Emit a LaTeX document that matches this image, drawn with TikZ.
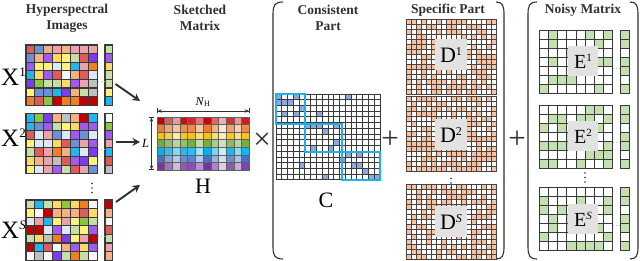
\documentclass[tikz,border=0pt]{standalone}
\usepackage{fontspec}
\setmainfont{Liberation Serif}
\usetikzlibrary{arrows.meta}
\definecolor{pal1}{HTML}{C00000}
\definecolor{pal2}{HTML}{6E8FD6}
\definecolor{pal3}{HTML}{A05AF0}
\definecolor{pal4}{HTML}{DDE8F6}
\definecolor{pal5}{HTML}{E05A5A}
\definecolor{pal6}{HTML}{22B5EE}
\definecolor{pal7}{HTML}{C5DFA6}
\definecolor{pal8}{HTML}{F4B183}
\definecolor{pal9}{HTML}{F7F7F7}
\definecolor{pal10}{HTML}{8CC63F}
\definecolor{pal11}{HTML}{EBA2AA}
\definecolor{pal12}{HTML}{FFF27A}
\definecolor{pal13}{HTML}{F07F22}
\definecolor{pal14}{HTML}{7B3CEB}
\definecolor{pal15}{HTML}{FFD966}
\definecolor{pal16}{HTML}{BFBFBF}
\definecolor{hr0}{HTML}{C00000}
\definecolor{hr1}{HTML}{ED7D31}
\definecolor{hr2}{HTML}{FFC000}
\definecolor{hr3}{HTML}{70AD47}
\definecolor{hr4}{HTML}{00B0F0}
\definecolor{hr5}{HTML}{4472C4}
\definecolor{hr6}{HTML}{7030A0}
\definecolor{dcol0}{HTML}{FFFFFF}
\definecolor{dcol1}{HTML}{F6C3A2}
\definecolor{ecol0}{HTML}{FFFFFF}
\definecolor{ecol1}{HTML}{C5E0B0}
\definecolor{cblue}{HTML}{8EA9DB}
\definecolor{frameblue}{HTML}{1CB0EC}
\definecolor{gridc}{HTML}{3A3A3A}
\definecolor{gridd}{HTML}{4A4240}
\definecolor{boxgray}{HTML}{E2E2E2}
\definecolor{ink}{HTML}{303030}

\newcommand{\supr}[3]{\raisebox{#2pt}{\fontsize{#1}{#1}\selectfont #3}}
\newcommand{\xmat}[2]{%
  \foreach \i in {0,...,7}{\foreach \j in {0,...,6}{%
    \pgfmathrandominteger{\cidx}{1}{16}%
    \filldraw[cellx, fill=pal\cidx] ({#1+\i*8.9},{#2+\j*8.6}) rectangle ++(8.9,8.6);
  }}%
  \foreach \j in {0,...,6}{%
    \pgfmathrandominteger{\cidx}{1}{16}%
    \filldraw[cellx, fill=pal\cidx] ({#1+79},{#2+\j*8.6}) rectangle ++(7.4,8.6);
  }%
  \draw[smalldots] ({#1+72.2},{#2+36}) -- ({#1+78.4},{#2+36});
}
\newcommand{\dmat}[2]{%
  \foreach \i in {0,...,17}{\foreach \j in {0,...,14}{%
    \pgfmathtruncatemacro\bb{rnd<0.5}%
    \filldraw[celld, fill=dcol\bb] ({#1+\i*5.05},{#2+\j*5.0}) rectangle ++(5.05,5.0);
  }}%
}
\newcommand{\emat}[2]{%
  \foreach \i in {0,...,7}{\foreach \j in {0,...,6}{%
    \pgfmathtruncatemacro\bb{rnd<0.32}%
    \filldraw[celle, fill=ecol\bb] ({#1+\i*9.2},{#2+\j*9.0}) rectangle ++(9.2,9.0);
  }}%
  \foreach \j/\g in {0/1,1/1,2/0,3/1,4/1,5/0,6/1}{%
    \filldraw[celle, fill=ecol\g] ({#1+80.7},{#2+\j*9.0}) rectangle ++(9.3,9.0);
  }%
  \draw[smalldots] ({#1+74},{#2+37}) -- ({#1+80},{#2+37});
}
\newcommand{\vdot}[2]{%
  \fill[ink] (#1,{#2-4.5}) circle (0.95pt);
  \fill[ink] (#1,#2) circle (0.95pt);
  \fill[ink] (#1,{#2+4.5}) circle (0.95pt);
}

\begin{document}
\begin{tikzpicture}[x=1pt,y=-1pt,
  cellx/.style={draw=gridc, line width=1.1pt},
  celld/.style={draw=gridd, line width=1.0pt},
  celle/.style={draw=gridc, line width=1.0pt},
  cellc/.style={draw=gridc, line width=0.9pt},
  cellh/.style={draw=gridc!80, line width=0.8pt},
  smalldots/.style={draw=gray!60, dotted, line width=0.7pt},
  title/.style={font=\fontsize{13.5}{16}\selectfont\bfseries, align=center, text=ink, inner sep=0pt},
  biglbl/.style={font=\fontsize{25}{25}\selectfont, text=black, inner sep=0pt},
  matlbl/.style={font=\fontsize{22}{22}\selectfont, text=black, inner sep=0pt},
  boxlbl/.style={fill=boxgray, minimum width=32pt, minimum height=31pt, inner sep=0pt,
                 font=\fontsize{22}{22}\selectfont},
  arr/.style={draw=ink, line width=1.9pt, -{Stealth[length=7.5pt,width=8pt]}},
  dim/.style={draw=ink, line width=0.7pt,
              {Bar[width=5pt]Stealth[length=4pt,width=3.5pt]}-{Stealth[length=4pt,width=3.5pt]Bar[width=5pt]}},
  brk/.style={draw=ink, line width=1.1pt},
  op/.style={font=\fontsize{31}{31}\selectfont, text=ink, inner sep=0pt}]
\useasboundingbox (0,0) rectangle (640,261);
\pgfmathsetseed{20}

% ---------- titles
\node[title] (t1) at (67,18) {Hyperspectral\\Images};
\node[title] (t2) at (200,18) {Sketched\\Matrix};
\node[title] (t3) at (328,18) {Consistent\\Part};
\node[title] (t4) at (448,10) {Specific Part};
\node[title] (t5) at (583,10) {Noisy Matrix};

% ---------- hyperspectral images
\xmat{26}{45}
\xmat{26}{113.5}
\xmat{26}{200}
\node[draw=none, minimum width=86pt, minimum height=60pt, inner sep=0pt] (x1) at (69,75) {};
\node[draw=none, minimum width=86pt, minimum height=60pt, inner sep=0pt] (x2) at (69,143.5) {};
\node[draw=none, minimum width=86pt, minimum height=60pt, inner sep=0pt] (xs) at (69,230) {};
\node[biglbl, anchor=base west] (lx1) at (1,86) {X\supr{13}{9}{1}};
\node[biglbl, anchor=base west] (lx2) at (1,147) {X\supr{13}{9}{2}};
\node[biglbl, anchor=base west] (lxs) at (1,239) {X\supr{13}{9}{\textit{S}}};
\vdot{92}{188}

% ---------- sketched matrix H
\foreach \j in {0,...,6}{%
  \foreach \i/\p in {0/100,1/72,2/42,3/85,4/92,5/45,6/100,7/62,8/28,9/82,10/45,11/96}{%
    \pgfmathtruncatemacro\pp{max(15,min(100,\p+rnd*20-10))}%
    \filldraw[cellh, fill=hr\j!\pp!white] ({157+\i*7.7},{117+\j*7.6}) rectangle ++(7.7,7.6);
  }}
\node[draw=none, minimum width=92.4pt, minimum height=53.2pt, inner sep=0pt] (hm) at (203.2,143.6) {};
\coordinate (nl) at (157,111);
\coordinate (nr) at (249.4,111);
\draw[dim] (nl) -- (nr);
\node[font=\fontsize{12}{12}\selectfont, inner sep=0pt] (nh) at (203,102) {\textit{N}\textsubscript{H}};
\coordinate (lt) at (151.5,117);
\coordinate (lb) at (151.5,170.2);
\draw[dim] (lt) -- (lb);
\node[font=\fontsize{12.5}{12.5}\selectfont\itshape, inner sep=0pt] (ll) at (145.5,143.5) {L};
\node[matlbl] (hl) at (203,186) {H};

% ---------- arrows
\coordinate (a1s) at (115.5,84);
\coordinate (a1e) at (140,101);
\coordinate (a2s) at (116,142);
\coordinate (a2e) at (140,142);
\coordinate (a3s) at (116,202);
\coordinate (a3e) at (140,185);
\draw[arr] (a1s) -- (a1e);
\draw[arr] (a2s) -- (a2e);
\draw[arr] (a3s) -- (a3e);

\node[op] (times) at (262,141) {×};

% ---------- bracket 1
\draw[brk] (283,2) .. controls (275,2) and (273,5) .. (273,14) -- (273,247) .. controls (273,256) and (275,259) .. (283,259);
\draw[brk] (496,2) .. controls (502,2) and (504,5) .. (504,14) -- (504,247) .. controls (504,256) and (502,259) .. (496,259);

% ---------- consistent part C
\foreach \i in {0,...,17}{\foreach \j in {0,...,14}{%
  \filldraw[cellc, fill=white] ({276+\i*5.78},{94+\j*5.73}) rectangle ++(5.78,5.73);
}}
\foreach \i/\j in {0/0,3/0,12/0,0/1,1/1,2/1,1/3,3/3,7/3,4/2,5/5,6/5,7/5,10/5,8/6,6/9,9/9,10/8,12/10,14/10,11/11,4/12,13/12,14/12,15/13,8/14,16/14,17/14}{%
  \filldraw[cellc, fill=cblue] ({276+\i*5.78},{94+\j*5.73}) rectangle ++(5.78,5.73);
}
\draw[frameblue, line width=1.9pt] (276,94) rectangle (305,124);
\draw[frameblue, line width=1.9pt] (305,124) rectangle (341.7,152);
\draw[frameblue, line width=1.9pt] (341.7,152) rectangle (380,180);
\node[draw=none, minimum width=104pt, minimum height=86pt, inner sep=0pt] (cm) at (328,137) {};
\node[matlbl] (cl) at (326,200) {C};

\node[op] (plus1) at (390,140) {+};

% ---------- specific part D
\dmat{406}{20}
\dmat{406}{97}
\dmat{406}{185}
\node[boxlbl] (d1) at (451,55) {D\supr{12}{7.5}{1}};
\node[boxlbl] (d2) at (451,135) {D\supr{12}{7.5}{2}};
\node[boxlbl] (ds) at (451,222) {D\supr{12}{7.5}{\textit{S}}};
\vdot{451}{183}

\node[op] (plus2) at (517,140) {+};

% ---------- noisy matrix
\draw[brk] (537,2) .. controls (530,2) and (528,5) .. (528,14) -- (528,247) .. controls (528,256) and (530,259) .. (537,259);
\draw[brk] (630,2) .. controls (636,2) and (638,5) .. (638,14) -- (638,247) .. controls (638,256) and (636,259) .. (630,259);
\emat{539.3}{31}
\emat{539.3}{105.5}
\emat{539.3}{188}
\node[boxlbl, minimum width=30pt, minimum height=30pt, font=\fontsize{20}{20}\selectfont] (e1) at (583,61) {E\supr{11}{7}{1}};
\node[boxlbl, minimum width=30pt, minimum height=30pt, font=\fontsize{20}{20}\selectfont] (e2) at (583,136) {E\supr{11}{7}{2}};
\node[boxlbl, minimum width=30pt, minimum height=30pt, font=\fontsize{20}{20}\selectfont] (es) at (583,219) {E\supr{11}{7}{\textit{S}}};
\vdot{585}{177.5}
\end{tikzpicture}
\end{document}
